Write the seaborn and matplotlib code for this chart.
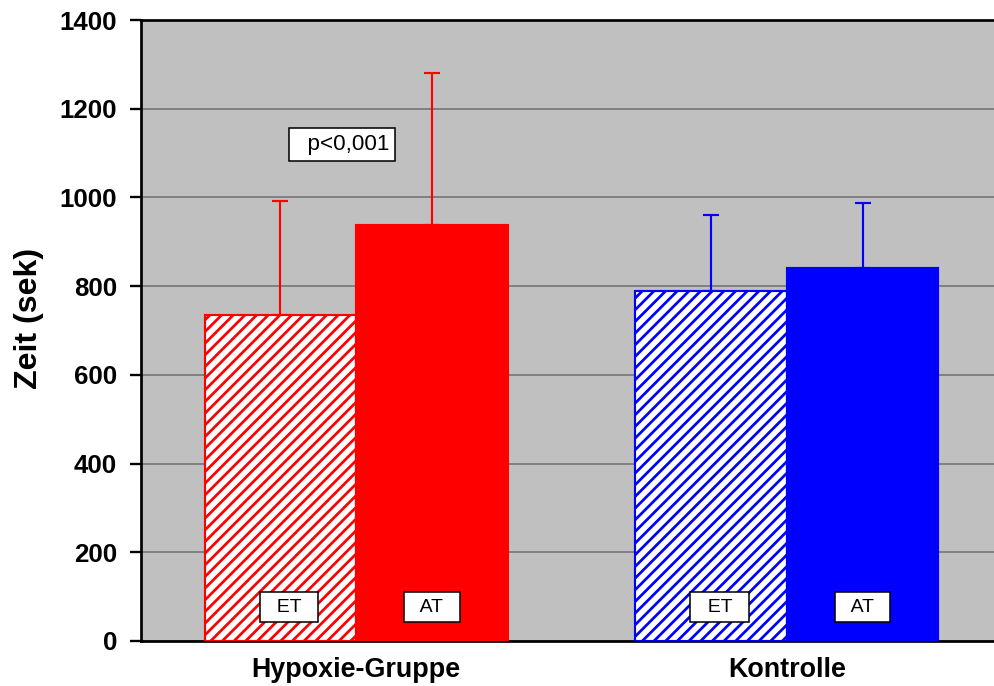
import matplotlib
matplotlib.use("Agg")
import matplotlib.pyplot as plt
import seaborn as sns
import pandas as pd

# Mean times (s) and standard deviations per group and test phase
groups = ["Hypoxie-Gruppe", "Kontrolle"]
phases = ["ET", "AT"]
et_mean = [735, 789]
at_mean = [938, 841]
et_sd = [257, 171]
at_sd = [342, 146]
group_colors = ["#ff0000", "#0000ff"]
y_ticks = [0, 200, 400, 600, 800, 1000, 1200, 1400]

df = pd.DataFrame({
    "Gruppe": groups * 2,
    "Phase": ["ET"] * len(groups) + ["AT"] * len(groups),
    "Zeit": et_mean + at_mean,
})
sds = {"ET": et_sd, "AT": at_sd}

sns.set_theme(style="white")
plt.rcParams["font.family"] = ["Liberation Sans", "DejaVu Sans"]
plt.rcParams["hatch.linewidth"] = 1.4
plt.rcParams["text.color"] = "black"
plt.rcParams["xtick.color"] = "black"
plt.rcParams["ytick.color"] = "black"
plt.rcParams["axes.labelcolor"] = "black"

DPI = 140
fig = plt.figure(figsize=(994 / DPI, 686 / DPI), dpi=DPI)
ax = fig.add_axes([141 / 994, 45 / 686, 861 / 994, 621 / 686])
ax.set_facecolor("#c0c0c0")

sns.barplot(data=df, x="Gruppe", y="Zeit", hue="Phase", hue_order=phases,
            order=groups, width=0.704, legend=False, ax=ax, zorder=3)

for phase, container in zip(phases, ax.containers):
    for i, bar in enumerate(container.patches):
        col = group_colors[i]
        bar.set_linewidth(1.1)
        bar.set_edgecolor(col)
        if phase == "ET":
            bar.set_facecolor("white")
            bar.set_hatch("////")
        else:
            bar.set_facecolor(col)
        cx = bar.get_x() + bar.get_width() / 2
        h = bar.get_height()
        ax.errorbar([cx], [h], yerr=[[0], [sds[phase][i]]], fmt="none",
                    ecolor=col, elinewidth=1.1, capsize=3.9, capthick=1.1,
                    zorder=2)
        ax.text(cx + (0.02 if phase == "ET" else 0), 81, f"  {phase}  ",
                ha="center", va="center_baseline", fontsize=10, color="black",
                zorder=5,
                bbox=dict(boxstyle="square,pad=0.32", fc="white",
                          ec="black", lw=0.8))

ax.text(-0.033, 1125, "  p<0,001", ha="center", va="center_baseline",
        fontsize=11.5, color="black", zorder=5,
        bbox=dict(boxstyle="square,pad=0.25", fc="white", ec="black", lw=0.8))

ax.set_xlim(-0.5, 1.5)
ax.set_ylim(0, 1400)
ax.set_yticks(y_ticks)
ax.set_yticklabels([str(t) for t in y_ticks], fontsize=13.3, fontweight="bold")
ax.set_xticks(range(len(groups)))
ax.set_xticklabels(groups, fontsize=13.8, fontweight="bold")
ax.tick_params(axis="y", direction="out", length=5.5, width=1.2,
               color="black", left=True, pad=6.8)
ax.tick_params(axis="x", length=0, pad=8)
ax.yaxis.grid(True, color="#808080", linewidth=1.0, zorder=0)
ax.set_axisbelow(True)
ax.set_xlabel("")
ax.set_ylabel("Zeit (sek)", fontsize=16.5, fontweight="bold")
ax.yaxis.set_label_coords(-0.113, 0.52)

for side in ["left", "bottom", "top", "right"]:
    ax.spines[side].set_color("black")
    ax.spines[side].set_linewidth(1.4)
    ax.spines[side].set_visible(True)

fig.savefig("out.png", dpi=DPI)
